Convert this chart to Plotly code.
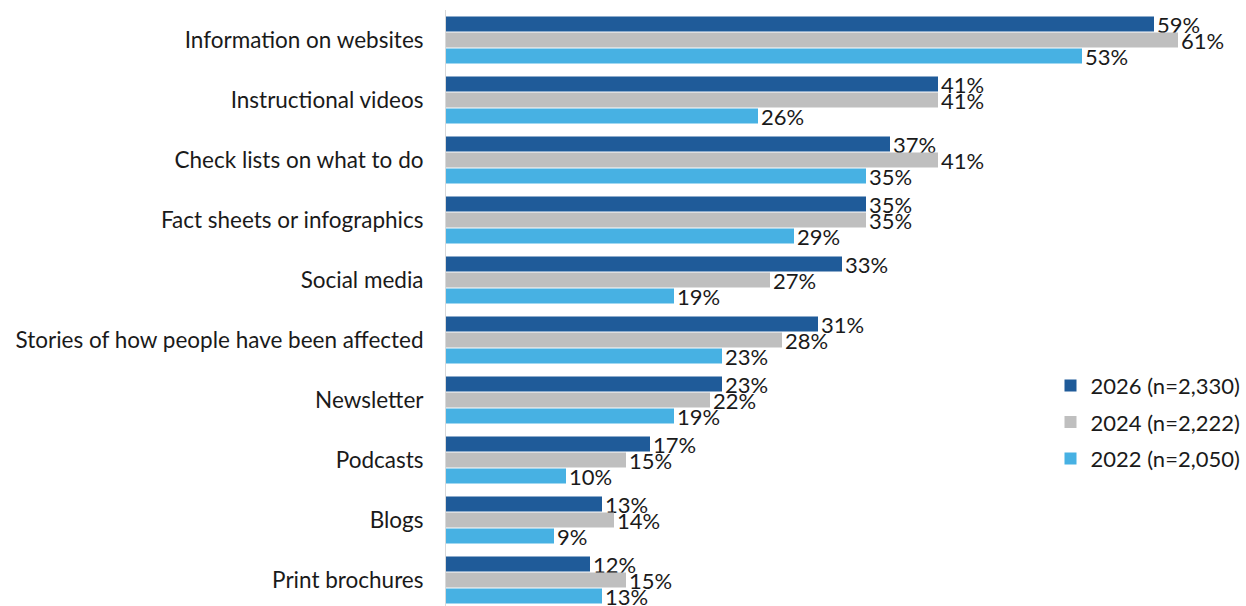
import plotly.graph_objects as go

categories = [
    "Information on websites",
    "Instructional videos",
    "Check lists on what to do",
    "Fact sheets or infographics",
    "Social media",
    "Stories of how people have been affected",
    "Newsletter",
    "Podcasts",
    "Blogs",
    "Print brochures",
]
series_names = ["2026 (n=2,330)", "2024 (n=2,222)", "2022 (n=2,050)"]
values_2026 = [59, 41, 37, 35, 33, 31, 23, 17, 13, 12]
values_2024 = [61, 41, 41, 35, 27, 28, 22, 15, 14, 15]
values_2022 = [53, 26, 35, 29, 19, 23, 19, 10, 9, 13]
colors = ["#1F5B99", "#BFBFBF", "#47B1E3"]

FONT = "Lato, Carlito, Calibri, sans-serif"
TEXT_COLOR = "#1A1A1A"

fig = go.Figure()
for name, vals, col in zip(series_names, [values_2026, values_2024, values_2022], colors):
    fig.add_trace(go.Bar(
        y=categories,
        x=vals,
        name=name,
        legendgroup=name,
        orientation="h",
        marker=dict(color=col, line=dict(width=0)),
        text=[f"{v}%" for v in vals],
        textposition="outside",
        constraintext="none",
        textfont=dict(size=22, color=TEXT_COLOR, family=FONT),
        cliponaxis=False,
    ))

fig.update_layout(
    width=1246,
    height=606,
    margin=dict(l=446, r=20, t=10, b=0),
    barmode="group",
    bargap=0.2,
    bargroupgap=0.05,
    plot_bgcolor="white",
    paper_bgcolor="white",
    font=dict(family=FONT, size=22, color=TEXT_COLOR),
    legend=dict(
        x=0.775, y=0.405, xanchor="left", yanchor="top",
        font=dict(size=22, color=TEXT_COLOR, family=FONT),
        traceorder="grouped",
        itemwidth=30,
        tracegroupgap=5,
        bgcolor="rgba(0,0,0,0)",
    ),
    xaxis=dict(
        range=[0, 65],
        visible=False,
        showgrid=False,
        zeroline=False,
    ),
    yaxis=dict(
        type="category",
        range=[9.433, -0.5],
        showline=True,
        linecolor="#D9D9D9",
        linewidth=1,
        ticks="",
        showgrid=False,
        ticklabelstandoff=17,
        tickfont=dict(size=22.5, color=TEXT_COLOR, family=FONT),
    ),
)

fig.write_html("out.html")
